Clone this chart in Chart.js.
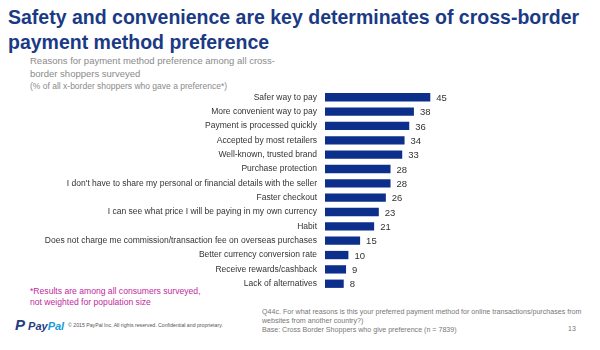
<!DOCTYPE html>
<html>
<head>
<meta charset="utf-8">
<script src="https://cdn.jsdelivr.net/npm/chart.js@4"></script>
<style>
  body { margin: 0; width: 600px; height: 350px; background: #fff; position: relative; overflow: hidden;
         font-family: "Liberation Sans", Arial, sans-serif; }
  .abs { position: absolute; white-space: nowrap; }
  #title { left: 8px; top: 5px; font-size: 19.5px; font-weight: bold; color: #1b3a85; line-height: 25px; }
  #sub { left: 30px; top: 55px; font-size: 9.5px; color: #8a8a8a; line-height: 12.5px; }
  #sub .small { font-size: 8.5px; }
  #note { left: 30px; top: 286px; font-size: 8.6px; color: #c02a9e; line-height: 10.5px; }
  #logo { left: 15px; top: 316px; font-size: 11px; font-weight: bold; font-style: italic; }
  #copy { left: 68px; top: 322px; font-size: 5.2px; color: #555; }
  #q { left: 262px; top: 308px; font-size: 7.1px; color: #777; line-height: 9px; }
  #page { left: 568px; top: 325px; font-size: 7px; color: #777; }
  #wrap { position: absolute; left: 0; top: 85px; width: 480px; height: 211px; }
</style>
</head>
<body>
<div id="title" class="abs">Safety and convenience are key determinates of cross-border<br>payment method preference</div>
<div id="sub" class="abs">Reasons for payment method preference among all cross-<br>border shoppers surveyed<br><span class="small">(% of all x-border shoppers who gave a preference*)</span></div>
<div id="note" class="abs">*Results are among all consumers surveyed,<br>not weighted for population size</div>
<div id="logo" class="abs"><span style="color:#253b80;font-size:15px">P</span> <span style="color:#253b80">Pay</span><span style="color:#179bd7">Pal</span></div>
<div id="copy" class="abs">© 2015 PayPal Inc. All rights reserved. Confidential and proprietary.</div>
<div id="q" class="abs">Q44c. For what reasons is this your preferred payment method for online transactions/purchases from<br>websites from another country?)<br>Base: Cross Border Shoppers who give preference (n = 7839)</div>
<div id="page" class="abs">13</div>
<div id="wrap"><canvas id="myChart"></canvas></div>
<script>
var reasons = [
  "Safer way to pay",
  "More convenient way to pay",
  "Payment is processed quickly",
  "Accepted by most retailers",
  "Well-known, trusted brand",
  "Purchase protection",
  "I don't have to share my personal or financial details with the seller",
  "Faster checkout",
  "I can see what price I will be paying in my own currency",
  "Habit",
  "Does not charge me commission/transaction fee on overseas purchases",
  "Better currency conversion rate",
  "Receive rewards/cashback",
  "Lack of alternatives"
];
var shares = [45, 38, 36, 34, 33, 28, 28, 26, 23, 21, 15, 10, 9, 8];

// writes the number just past the end of each bar
var valueLabels = {
  id: "valueLabels",
  afterDatasetsDraw(chart) {
    var ctx = chart.ctx;
    var meta = chart.getDatasetMeta(0);
    ctx.save();
    ctx.font = "9.5px 'Liberation Sans', Arial, sans-serif";
    ctx.fillStyle = "#333";
    ctx.textBaseline = "middle";
    meta.data.forEach(function (bar, i) {
      ctx.fillText(shares[i], bar.x + 6, bar.y + 1);
    });
    ctx.restore();
  }
};

new Chart("myChart", {
  type: "bar",
  data: {
    labels: reasons,
    datasets: [{
      data: shares,
      backgroundColor: "#0d2f8c",
      barPercentage: 0.58,
      categoryPercentage: 1
    }]
  },
  options: {
    indexAxis: "y",
    responsive: true,
    maintainAspectRatio: false,
    animation: false,
    layout: { padding: { right: 38, top: 0, bottom: 0 } },
    plugins: { legend: { display: false }, tooltip: { enabled: false } },
    scales: {
      x: { min: 0, max: 50, display: false },
      y: {
        afterFit: function (scale) { scale.width = 325; },
        grid: { display: false },
        border: { display: false },
        ticks: {
          autoSkip: false,
          padding: 0,
          color: "#333",
          font: { size: 8.5, family: "'Liberation Sans', Arial, sans-serif" }
        }
      }
    }
  },
  plugins: [valueLabels]
});
</script>
</body>
</html>
